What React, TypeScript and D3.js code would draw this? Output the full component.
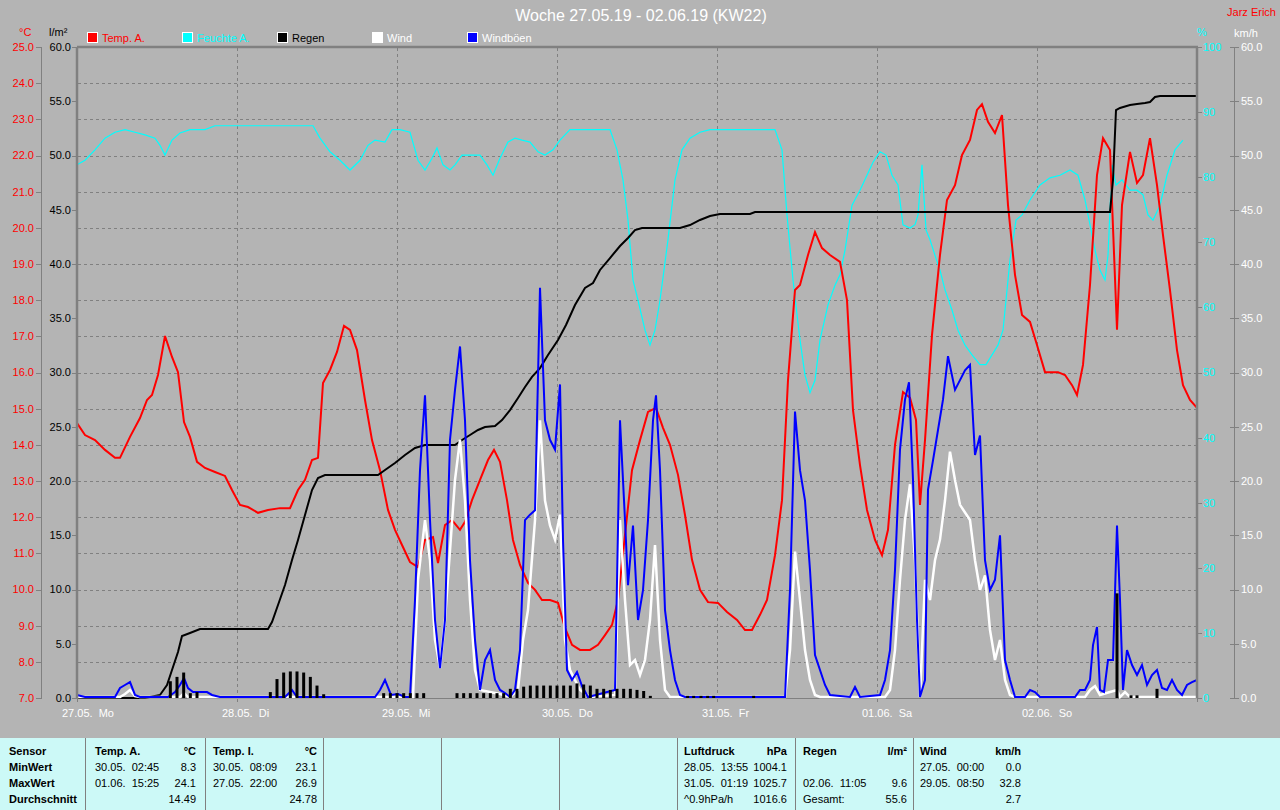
import React from 'react';
import * as d3 from 'd3';

const FONT = '"Liberation Sans", Arial, sans-serif';
const BG = '#b4b4b4';
const AXIS = '#808080';

// ---------- data (hours since 27.05. 00:00) ----------
const dayLabels = ['27.05.  Mo', '28.05.  Di', '29.05.  Mi', '30.05.  Do', '31.05.  Fr', '01.06.  Sa', '02.06.  So'];

const tempH = [0, 1.2, 2.7, 4.2, 5.7, 6.45, 7.95, 9.45, 10.5, 11.25, 12.15, 13.2, 14.25, 15.15, 16.05, 16.95, 18, 19.2, 20.7, 22.2, 23.25, 24.45, 25.65, 27.15, 28.65, 30.45, 31.95, 33.15, 34.2, 35.25, 36.15, 36.9, 37.95, 39, 40.05, 40.95, 42, 43.2, 44.25, 45.45, 46.65, 47.7, 48.75, 49.95, 51.15, 52.2, 53.4, 54.15, 55.2, 56.25, 57.45, 58.2, 59.25, 60.45, 61.65, 62.55, 63.45, 64.5, 65.4, 66.45, 67.65, 68.7, 69.75, 70.95, 72.15, 73.2, 74.25, 75.45, 76.95, 78.15, 79.2, 80.25, 81.15, 82.2, 83.25, 84.45, 85.65, 86.85, 87.9, 88.95, 90.15, 91.2, 92.25, 93.45, 94.65, 96.15, 97.5, 99, 100.2, 101.25, 102.45, 103.5, 104.7, 105.75, 106.65, 107.7, 108.45, 109.65, 110.7, 111.75, 112.95, 114.45, 115.5, 116.4, 117.45, 118.5, 119.7, 120.75, 121.65, 122.7, 123.9, 124.95, 125.85, 126.45, 127.2, 128.25, 129.45, 130.5, 131.7, 132.75, 133.95, 135, 135.75, 136.65, 137.7, 138.75, 139.65, 140.7, 141.75, 142.95, 144, 145.2, 145.95, 147.15, 148.2, 149.25, 150, 150.9, 151.95, 153, 153.9, 154.95, 156, 156.75, 157.95, 159, 159.9, 160.95, 162, 162.9, 163.95, 165, 165.9, 166.95, 168];
const tempV = [14.6, 14.27, 14.13, 13.86, 13.64, 13.64, 14.22, 14.74, 15.24, 15.38, 15.93, 17.01, 16.43, 16.01, 14.63, 14.22, 13.53, 13.36, 13.25, 13.14, 12.75, 12.34, 12.28, 12.12, 12.2, 12.25, 12.25, 12.75, 13.03, 13.58, 13.64, 15.71, 16.07, 16.57, 17.29, 17.18, 16.62, 15.24, 14.13, 13.3, 12.2, 11.65, 11.23, 10.76, 10.62, 11.37, 11.45, 10.73, 11.78, 11.92, 11.65, 11.87, 12.47, 13.03, 13.58, 13.86, 13.53, 12.47, 11.37, 10.68, 10.18, 9.99, 9.71, 9.71, 9.63, 8.94, 8.47, 8.33, 8.33, 8.47, 8.74, 9.02, 9.71, 11.51, 13.3, 14.13, 14.91, 15.02, 14.47, 14.0, 13.17, 12.06, 10.82, 9.99, 9.65, 9.63, 9.38, 9.16, 8.88, 8.88, 9.3, 9.71, 10.95, 12.47, 15.79, 18.28, 18.42, 19.25, 19.88, 19.44, 19.25, 19.06, 18.0, 14.96, 13.44, 12.2, 11.37, 10.95, 11.65, 14.0, 15.46, 15.3, 14.69, 12.34, 14.13, 17.04, 19.25, 20.77, 21.18, 22.01, 22.43, 23.26, 23.42, 22.93, 22.62, 23.12, 20.63, 18.7, 17.59, 17.4, 16.76, 16.01, 16.01, 16.01, 15.93, 15.65, 15.38, 16.21, 18.42, 21.46, 22.48, 22.15, 17.18, 20.63, 22.1, 21.24, 21.46, 22.48, 21.18, 19.8, 18.28, 16.62, 15.65, 15.24, 15.02];

const humH = [0, 1.2, 2.7, 4.2, 5.7, 7.2, 8.7, 10.2, 11.7, 12.45, 13.2, 14.25, 15.45, 16.95, 19.2, 20.7, 35.4, 36.45, 37.95, 39.45, 40.95, 42.45, 43.65, 44.7, 46.2, 47.25, 48.45, 49.95, 51.15, 52.2, 53.25, 54, 54.9, 55.95, 56.7, 57.75, 58.95, 60.45, 61.5, 62.4, 63.45, 64.65, 65.7, 66.75, 67.95, 69.15, 70.2, 71.4, 72.45, 73.95, 79.95, 81, 81.9, 82.65, 83.4, 84.15, 85.2, 85.95, 86.7, 87.45, 88.65, 89.7, 90.75, 91.95, 93.45, 94.95, 104.7, 105.75, 106.5, 107.4, 108.45, 109.2, 109.95, 110.7, 111.45, 112.65, 113.7, 114.45, 115.2, 116.25, 117.45, 118.5, 119.4, 120.45, 121.35, 122.25, 123.15, 123.9, 124.95, 125.7, 126.15, 126.75, 127.35, 127.95, 128.7, 129.45, 130.2, 131.25, 132.15, 133.2, 134.25, 135.45, 136.35, 137.25, 138.15, 138.9, 139.95, 140.85, 141.75, 142.95, 144.45, 145.95, 147.45, 148.95, 150.15, 151.2, 151.95, 152.7, 153.45, 154.2, 154.65, 155.25, 155.85, 156.75, 157.95, 159, 159.9, 160.65, 161.4, 162.45, 163.5, 164.7, 165.9];
const humV = [81.9, 82.6, 84.2, 86.0, 86.9, 87.3, 86.9, 86.5, 86.0, 84.9, 83.4, 85.7, 86.8, 87.3, 87.3, 87.9, 87.9, 86.0, 83.9, 82.6, 81.1, 82.6, 84.9, 85.7, 85.4, 87.3, 87.3, 86.9, 82.6, 81.1, 82.9, 84.5, 81.9, 81.1, 81.9, 83.4, 83.4, 83.4, 81.9, 80.3, 82.9, 85.4, 86.0, 85.7, 85.4, 83.9, 83.4, 84.2, 85.7, 87.3, 87.3, 84.2, 79.6, 73.4, 64.2, 61.1, 56.5, 54.2, 56.5, 61.1, 70.4, 79.6, 84.2, 86.0, 86.9, 87.3, 87.3, 84.2, 74.2, 64.2, 55.0, 49.6, 46.9, 48.8, 55.0, 60.4, 63.4, 65.0, 68.8, 75.7, 78.0, 80.3, 82.3, 83.9, 83.4, 80.3, 78.8, 72.7, 72.2, 72.7, 74.2, 81.9, 71.9, 70.4, 68.0, 65.7, 62.7, 59.6, 56.5, 54.2, 52.7, 51.2, 51.2, 52.7, 54.2, 56.5, 67.3, 73.4, 74.2, 76.5, 78.8, 79.9, 80.3, 81.1, 80.3, 76.5, 72.7, 68.8, 65.7, 64.2, 68.0, 81.9, 78.8, 79.6, 78.0, 78.0, 77.3, 74.2, 73.4, 75.7, 80.3, 84.2, 85.7];

const rainSumH = [0, 10.2, 10.95, 12.45, 13.5, 14.25, 15.15, 15.75, 16.95, 18.45, 28.65, 29.25, 30.15, 31.2, 32.25, 33.15, 34.2, 35.25, 36.15, 37.2, 45.15, 46.2, 47.7, 49.2, 50.7, 52.2, 56.7, 57.75, 58.95, 60.15, 61.2, 62.7, 63.75, 64.95, 66.15, 67.2, 68.25, 69.45, 70.65, 72.15, 73.35, 74.7, 76.2, 77.4, 78.45, 79.95, 81.45, 82.65, 83.7, 84.75, 90.45, 91.95, 93.45, 94.95, 96.45, 100.95, 101.7, 154.95, 155.4, 155.85, 156.45, 157.95, 159, 160.2, 160.95, 161.7, 162.45, 168];
const rainSumV = [0, 0, 0.09, 0.28, 1.2, 2.58, 4.24, 5.71, 5.99, 6.36, 6.36, 7.0, 8.57, 10.41, 12.72, 14.56, 16.87, 19.17, 20.28, 20.55, 20.55, 21.01, 21.66, 22.4, 23.04, 23.32, 23.32, 23.78, 24.24, 24.7, 24.98, 25.07, 25.62, 26.54, 27.65, 28.66, 29.59, 30.41, 31.61, 33.0, 34.38, 36.22, 37.79, 38.25, 39.45, 40.55, 41.66, 42.4, 43.13, 43.32, 43.32, 43.59, 44.06, 44.42, 44.61, 44.61, 44.79, 44.79, 47.74, 54.19, 54.38, 54.65, 54.75, 54.84, 54.93, 55.39, 55.48, 55.48];

const rainBarH = [14, 15, 16, 17, 18, 29, 30, 31, 32, 33, 34, 35, 36, 37, 46, 47, 48, 49, 50, 51, 52, 57, 58, 59, 60, 61, 62, 63, 64, 65, 66, 67, 68, 69, 70, 71, 72, 73, 74, 75, 76, 77, 78, 79, 80, 81, 82, 83, 84, 85, 86, 91.6, 92.5, 93.6, 94.6, 95.5, 101.5, 156, 158.1, 159, 162];
const rainBarV = [1.5, 1.9, 2.3, 0.4, 0.5, 0.5, 1.7, 2.3, 2.4, 2.4, 2.3, 1.9, 1.1, 0.3, 0.4, 0.4, 0.4, 0.4, 0.4, 0.4, 0.4, 0.4, 0.4, 0.4, 0.4, 0.4, 0.4, 0.4, 0.4, 0.8, 0.8, 1.0, 1.1, 1.1, 1.1, 1.1, 1.1, 1.1, 1.1, 1.3, 1.2, 1.1, 0.8, 0.8, 0.7, 0.8, 0.8, 0.8, 0.7, 0.6, 0.15, 0.15, 0.15, 0.15, 0.15, 0.15, 0.15, 9.6, 0.2, 0.2, 0.8];

const windH = [0, 6.45, 7.2, 7.95, 8.7, 9.45, 15.45, 16.05, 16.65, 49.95, 50.4, 51.15, 52.2, 52.95, 53.7, 54.45, 55.2, 55.95, 56.7, 57.45, 58.2, 58.95, 59.7, 60.45, 61.95, 63.45, 64.95, 66.15, 66.9, 67.65, 68.7, 69.45, 70.2, 70.95, 71.7, 72.45, 73.2, 73.95, 75.45, 76.95, 80.7, 81.45, 82.2, 82.95, 83.7, 84.45, 85.2, 85.95, 86.7, 87.45, 88.2, 88.95, 106.2, 106.95, 107.7, 108.45, 109.2, 109.95, 110.7, 111.45, 121.2, 121.95, 122.7, 123.45, 124.2, 124.95, 125.7, 126.45, 127.2, 127.95, 128.7, 129.45, 130.2, 130.95, 131.7, 132.45, 133.2, 133.95, 134.7, 135.45, 136.2, 136.95, 137.7, 138.45, 139.2, 139.95, 140.7, 151.2, 151.95, 152.7, 153.45, 154.95, 156, 156.45, 157.2, 157.95, 168];
const windV = [0.09, 0.09, 0.37, 0.74, 0.18, 0.09, 0.09, 0.46, 0.09, 0.09, 0.09, 10.9, 16.4, 12.7, 5.35, 2.76, 7.19, 13.6, 20.1, 23.8, 18.2, 9.03, 2.58, 0.74, 0.55, 0.37, 0.09, 0.74, 5.35, 8.11, 16.4, 25.6, 18.2, 15.9, 14.6, 16.9, 5.35, 2.58, 0.74, 0.09, 0.28, 16.4, 9.03, 3.04, 3.5, 2.12, 3.5, 7.19, 14.1, 5.35, 0.74, 0.09, 0.09, 4.42, 13.5, 9.03, 4.42, 1.66, 0.28, 0.09, 0.09, 0.74, 4.42, 10.9, 16.4, 19.7, 12.7, 0.09, 10.9, 9.03, 12.7, 14.6, 18.2, 22.7, 20.1, 17.8, 17.1, 16.4, 12.7, 9.95, 11.3, 6.27, 3.5, 5.35, 1.66, 0.28, 0.09, 0.09, 0.74, 1.1, 0.28, 0.55, 0.74, 0.09, 0.55, 0.09, 0.09];

const gustH = [0, 1.2, 5.7, 6.45, 7.2, 7.95, 8.7, 9.45, 13.65, 14.7, 15.45, 16.05, 16.65, 17.4, 19.5, 20.25, 21.45, 31.2, 32.25, 33, 44.7, 45.45, 46.2, 47.1, 48.15, 49.2, 49.95, 50.7, 51.45, 52.2, 52.95, 53.7, 54.45, 55.2, 55.95, 56.7, 57.45, 58.2, 58.95, 59.7, 60.45, 61.2, 61.95, 62.7, 63.45, 64.2, 64.95, 65.7, 66.45, 67.2, 67.95, 68.7, 69.45, 70.2, 70.95, 71.7, 72.45, 72.9, 73.5, 74.25, 75, 75.75, 76.65, 80.7, 81.45, 82.2, 82.65, 83.4, 84.15, 84.9, 85.65, 86.4, 86.85, 87.45, 88.2, 88.95, 89.7, 90.45, 91.2, 106.2, 106.95, 107.7, 108.45, 109.2, 109.95, 110.7, 111.45, 112.2, 112.95, 115.95, 116.7, 117.45, 120.45, 121.2, 121.95, 122.7, 123.45, 124.2, 124.8, 125.4, 126, 126.45, 127.2, 127.65, 128.4, 129.15, 129.9, 130.65, 131.7, 132.45, 133.2, 133.95, 134.7, 135.45, 136.2, 136.95, 137.7, 138.45, 139.2, 139.95, 140.7, 142.2, 142.95, 143.7, 144.45, 149.7, 150.45, 151.2, 151.95, 152.4, 153, 153.45, 154.05, 154.65, 155.4, 156, 156.45, 156.9, 157.5, 158.25, 159, 159.75, 160.5, 161.25, 162, 162.75, 163.5, 164.25, 165, 165.75, 166.5, 167.25, 168];
const gustV = [0.28, 0.09, 0.09, 0.92, 1.2, 1.47, 0.28, 0.09, 0.09, 0.55, 1.2, 1.84, 0.92, 0.55, 0.55, 0.28, 0.09, 0.09, 0.74, 0.09, 0.09, 0.74, 1.66, 0.28, 0.37, 0.09, 0.09, 9.03, 21.0, 27.9, 16.4, 7.19, 2.76, 7.19, 23.8, 28.4, 32.4, 25.6, 12.7, 5.35, 0.74, 3.5, 4.42, 1.66, 0.74, 0.46, 0.09, 0.74, 4.42, 16.4, 16.9, 17.3, 37.8, 25.6, 23.8, 22.9, 28.9, 14.6, 2.58, 1.66, 2.4, 1.1, 0.09, 0.74, 25.6, 16.4, 10.4, 15.9, 7.19, 9.95, 16.4, 25.6, 27.9, 21.0, 8.1, 4.42, 1.66, 0.28, 0.09, 0.09, 9.95, 26.4, 21.0, 18.2, 11.8, 3.96, 2.58, 1.2, 0.28, 0.09, 1.01, 0.09, 0.28, 1.66, 4.42, 11.8, 22.9, 27.5, 29.1, 20.1, 7.19, 0.09, 1.66, 19.2, 21.9, 24.7, 27.5, 31.5, 28.4, 29.3, 30.2, 30.7, 22.4, 24.2, 12.7, 9.95, 10.9, 15.0, 3.5, 1.66, 0.09, 0.09, 0.74, 0.55, 0.09, 0.09, 0.74, 0.74, 1.66, 4.88, 6.54, 0.74, 0.55, 3.5, 3.5, 15.9, 9.03, 0.74, 4.42, 3.04, 2.12, 3.04, 1.2, 2.12, 2.58, 0.92, 0.74, 1.66, 0.74, 0.28, 1.2, 1.47, 1.66];

const tempTicks = d3.range(7, 25.5, 1);
const rainTicks = d3.range(0, 60.5, 5);
const humTicks = d3.range(0, 100.5, 10);
const windTicks = d3.range(0, 60.5, 5);

const legendNames = ['Temp. A.', 'Feuchte A.', 'Regen', 'Wind', 'Windböen'];
const legendColors = ['#ff0000', '#00ffff', '#000000', '#ffffff', '#0000ff'];
const legendTextColors = ['#ff0000', '#00ffff', '#000000', '#ffffff', '#ffffff'];

const tableRowLabels = ['Sensor', 'MinWert', 'MaxWert', 'Durchschnitt'];
const tableHeaders = [['Temp. A.', '°C'], ['Temp. I.', '°C'], ['Luftdruck', 'hPa'], ['Regen', 'l/m²'], ['Wind', 'km/h']];
const tableLeft = [['30.05.  02:45', '01.06.  15:25', ''], ['30.05.  08:09', '27.05.  22:00', ''], ['28.05.  13:55', '31.05.  01:19', '^0.9hPa/h'], ['', '02.06.  11:05', 'Gesamt:'], ['27.05.  00:00', '29.05.  08:50', '']];
const tableRight = [['8.3', '24.1', '14.49'], ['23.1', '26.9', '24.78'], ['1004.1', '1025.7', '1016.6'], ['', '9.6', '55.6'], ['0.0', '32.8', '2.7']];
const tableColLeft = [95, 213, 684, 803, 920];
const tableColRight = [196, 317, 787, 907, 1021];
const tableSeparators = [85, 205, 323, 441, 559, 677, 795, 913];

// ---------- layout ----------
const L = 77, R = 1197, T = 47, B = 698;
const x = d3.scaleLinear().domain([0, 168]).range([L, R]);
const yT = d3.scaleLinear().domain([7, 25]).range([B, T]);
const yR = d3.scaleLinear().domain([0, 60]).range([B, T]);
const yH = d3.scaleLinear().domain([0, 100]).range([B, T]);
const yW = d3.scaleLinear().domain([0, 60]).range([B, T]);

function path(hs: number[], vs: number[], y: d3.ScaleLinear<number, number>) {
  const pts = hs.map((h, i) => [h, vs[i]] as [number, number]);
  return d3.line<[number, number]>().x(d => x(d[0])).y(d => y(d[1]))(pts) || '';
}

export default function App() {
  const txt = { fontFamily: FONT, fontSize: 11 } as React.CSSProperties;
  return (
    <svg width={1280} height={810} style={{ position: 'absolute', left: 0, top: 0, display: 'block' }}>
      <rect x={0} y={0} width={1280} height={810} fill={BG} />
      {/* title */}
      <text x={641} y={21} textAnchor="middle" fill="#ffffff" style={{ fontFamily: FONT, fontSize: 16 }}>Woche 27.05.19 - 02.06.19 (KW22)</text>
      <text x={1276} y={16} textAnchor="end" fill="#ff0000" style={txt}>Jarz Erich</text>

      {/* axis titles */}
      <text x={19} y={36} fill="#ff0000" style={txt}>°C</text>
      <text x={49} y={36} fill="#000000" style={txt}>l/m²</text>
      <text x={1197} y={36} fill="#00ffff" style={txt}>%</text>
      <text x={1234} y={37} fill="#ffffff" style={txt}>km/h</text>

      {/* legend */}
      {legendNames.map((n, i) => (
        <g key={n}>
          <rect x={87.5 + i * 95} y={32.5} width={10} height={10} fill={legendColors[i]} stroke="#ffffff" strokeWidth={1} />
          <text x={102 + i * 95} y={42} fill={legendTextColors[i]} style={txt}>{n}</text>
        </g>
      ))}

      {/* grid */}
      {tempTicks.filter(t => t > 7 && t < 25).map(t => (
        <line key={'hg' + t} x1={L + 1} x2={R - 1} y1={Math.round(yT(t)) + 0.5} y2={Math.round(yT(t)) + 0.5} stroke={AXIS} strokeDasharray="3,3" />
      ))}
      {d3.range(1, 7).map(d => (
        <line key={'vg' + d} x1={Math.round(x(d * 24)) + 0.5} x2={Math.round(x(d * 24)) + 0.5} y1={T + 1} y2={B} stroke={AXIS} strokeDasharray="3,3" />
      ))}

      {/* left temp axis */}
      <line x1={41.5} x2={41.5} y1={T} y2={B} stroke={AXIS} />
      {tempTicks.map(t => (
        <g key={'tt' + t}>
          <line x1={36} x2={42} y1={Math.round(yT(t)) + 0.5} y2={Math.round(yT(t)) + 0.5} stroke={AXIS} />
          <text x={34} y={yT(t)} dy="0.36em" textAnchor="end" fill="#ff0000" style={txt}>{t.toFixed(1)}</text>
        </g>
      ))}
      {/* left rain axis */}
      {rainTicks.map(t => (
        <g key={'rt' + t}>
          <line x1={72} x2={77} y1={Math.round(yR(t)) + 0.5} y2={Math.round(yR(t)) + 0.5} stroke={AXIS} />
          <text x={71} y={yR(t)} dy="0.36em" textAnchor="end" fill="#000000" style={txt}>{t.toFixed(1)}</text>
        </g>
      ))}
      {/* right humidity axis */}
      {humTicks.map(t => (
        <g key={'ht' + t}>
          <line x1={R} x2={1202} y1={Math.round(yH(t)) + 0.5} y2={Math.round(yH(t)) + 0.5} stroke={AXIS} />
          <text x={1203} y={yH(t)} dy="0.36em" fill="#00ffff" style={txt}>{t}</text>
        </g>
      ))}
      {/* right wind axis */}
      <line x1={1234.5} x2={1234.5} y1={T} y2={B} stroke={AXIS} />
      {windTicks.map(t => (
        <g key={'wt' + t}>
          <line x1={1230} x2={1239} y1={Math.round(yW(t)) + 0.5} y2={Math.round(yW(t)) + 0.5} stroke={AXIS} />
          <text x={1241} y={yW(t)} dy="0.36em" fill="#ffffff" style={txt}>{t.toFixed(1)}</text>
        </g>
      ))}

      {/* x axis */}
      <line x1={L} x2={R} y1={B + 0.5} y2={B + 0.5} stroke={AXIS} />
      {d3.range(0, 8).map(d => (
        <line key={'xt' + d} x1={Math.round(x(d * 24)) + 0.5} x2={Math.round(x(d * 24)) + 0.5} y1={B} y2={B + 4} stroke={AXIS} />
      ))}
      {dayLabels.map((lab, d) => (
        <text key={lab} x={x(d * 24) - 15} y={717} fill="#ffffff" style={{ ...txt, whiteSpace: 'pre' }}>{lab}</text>
      ))}

      {/* series */}
      <path d={path(humH, humV, yH)} fill="none" stroke="#00ffff" strokeWidth={1.2} />
      <path d={path(tempH, tempV, yT)} fill="none" stroke="#ff0000" strokeWidth={2} />
      <path d={path(rainSumH, rainSumV, yR)} fill="none" stroke="#000000" strokeWidth={2} />
      <path d={path(windH, windV, yW)} fill="none" stroke="#ffffff" strokeWidth={2.5} />
      <path d={path(gustH, gustV, yW)} fill="none" stroke="#0000ff" strokeWidth={2} />
      {rainBarH.map((h, i) => (
        <line key={'rb' + h} x1={x(h)} x2={x(h)} y1={yR(0)} y2={yR(rainBarV[i]) - 0.5} stroke="#000000" strokeWidth={3} />
      ))}

      {/* frame */}
      <line x1={L} x2={R + 1} y1={T} y2={T} stroke={AXIS} strokeWidth={2.5} />
      <line x1={R} x2={R} y1={T} y2={B} stroke={AXIS} strokeWidth={2.5} />
      <line x1={L} x2={L} y1={T} y2={B + 1} stroke={AXIS} strokeWidth={2.5} />

      {/* table */}
      <rect x={0} y={738} width={1280} height={72} fill="#ccf9f7" />
      {tableSeparators.map(s => (
        <line key={'ts' + s} x1={s + 0.5} x2={s + 0.5} y1={738} y2={810} stroke={AXIS} />
      ))}
      {tableRowLabels.map((r, i) => (
        <text key={r} x={9} y={755 + i * 16} fill="#000" style={{ ...txt, fontWeight: 'bold' }}>{r}</text>
      ))}
      {tableHeaders.map((hd, c) => (
        <g key={'th' + c}>
          <text x={tableColLeft[c]} y={755} fill="#000" style={{ ...txt, fontWeight: 'bold' }}>{hd[0]}</text>
          <text x={tableColRight[c]} y={755} textAnchor="end" fill="#000" style={{ ...txt, fontWeight: 'bold' }}>{hd[1]}</text>
          {tableLeft[c].map((s, r) => (
            <text key={'l' + r} x={tableColLeft[c]} y={771 + r * 16} fill="#000" style={{ ...txt, whiteSpace: 'pre' }}>{s}</text>
          ))}
          {tableRight[c].map((s, r) => (
            <text key={'r' + r} x={tableColRight[c]} y={771 + r * 16} textAnchor="end" fill="#000" style={txt}>{s}</text>
          ))}
        </g>
      ))}
    </svg>
  );
}
